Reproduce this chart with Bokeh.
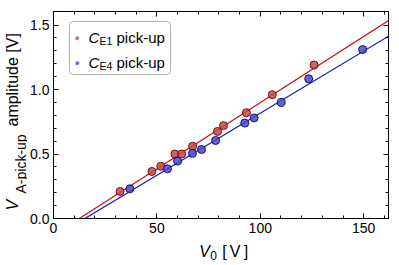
import numpy as np
from bokeh.plotting import figure
from bokeh.layouts import row, column
from bokeh.models import (ColumnDataSource, LinearAxis, FixedTicker, Range1d,
                          Label, BoxAnnotation, PrintfTickFormatter,
                          CustomJSTickFormatter)
from bokeh.embed import file_html
from bokeh.resources import INLINE

# ---- data ----
v0_e1 = [32.2, 47.6, 51.9, 58.7, 62.0, 67.3, 79.3, 82.2, 93.3, 105.8, 126.0]
amp_e1 = [0.21, 0.365, 0.405, 0.50, 0.50, 0.56, 0.675, 0.72, 0.82, 0.96, 1.19]
v0_e4 = [36.9, 55.1, 60.0, 67.2, 71.6, 78.4, 92.5, 97.0, 110.1, 123.4, 149.5]
amp_e4 = [0.23, 0.385, 0.445, 0.505, 0.535, 0.605, 0.74, 0.78, 0.90, 1.083, 1.31]
fit_e1 = [0.01027, -0.1284]   # slope, intercept
fit_e4 = [0.00963, -0.1464]
fit_x = [0.0, 165.0]
x_ticks = [0, 50, 100, 150]
x_minor = [10, 20, 30, 40, 60, 70, 80, 90, 110, 120, 130, 140, 160]
y_ticks = [0.0, 0.5, 1.0, 1.5]
y_minor = [0.1, 0.2, 0.3, 0.4, 0.6, 0.7, 0.8, 0.9, 1.1, 1.2, 1.3, 1.4]
legend_e1 = ["C", "E1", "pick-up"]
legend_e4 = ["C", "E4", "pick-up"]
ylabel_parts = ["V", "A-pick-up", "amplitude [V]"]
xlabel_parts = ["V", "0", "[\u2009V\u2009]"]

FONT = "Liberation Sans"
RED_LINE = "#cc1010"
BLUE_LINE = "#1010cc"

p = figure(width=372, height=240, output_backend="svg", toolbar_location=None,
           x_range=Range1d(0, 162), y_range=Range1d(0, 1.605),
           min_border_left=24, min_border_right=11, min_border_top=11,
           min_border_bottom=22, x_axis_location=None, y_axis_location=None)
p.grid.visible = False
p.outline_line_color = "black"
p.outline_line_width = 1
p.background_fill_color = "white"
p.border_fill_color = "white"

def make_axis(ticks, minor, labels, standoff=4):
    ax = LinearAxis(ticker=FixedTicker(ticks=ticks, minor_ticks=minor))
    ax.major_tick_in = 5
    ax.major_tick_out = 0
    ax.minor_tick_in = 3
    ax.minor_tick_out = 0
    ax.axis_line_color = "black"
    ax.major_tick_line_color = "black"
    ax.minor_tick_line_color = "black"
    ax.major_label_text_font = FONT
    ax.major_label_text_color = "black"
    ax.major_label_text_font_size = "14px"
    if labels:
        ax.major_label_standoff = standoff
    else:
        ax.formatter = CustomJSTickFormatter(code="return ''")
        ax.major_label_standoff = 0
    return ax

xb = make_axis(x_ticks, x_minor, True, standoff=4)
yl = make_axis(y_ticks, y_minor, True, standoff=4)
yl.formatter = PrintfTickFormatter(format="%.1f")
xt = make_axis(x_ticks, x_minor, False)
yr = make_axis(y_ticks, y_minor, False)
p.add_layout(xb, "below")
p.add_layout(yl, "left")
p.add_layout(xt, "above")
p.add_layout(yr, "right")

# fit lines
fx = np.array(fit_x)
p.line(fx, fit_e1[0] * fx + fit_e1[1], line_color=RED_LINE, line_width=1.2)
p.line(fx, fit_e4[0] * fx + fit_e4[1], line_color=BLUE_LINE, line_width=1.2)

# points
src1 = ColumnDataSource(dict(x=v0_e1, y=amp_e1))
src4 = ColumnDataSource(dict(x=v0_e4, y=amp_e4))
p.scatter("x", "y", source=src1, size=8, fill_color="#c24a4a", fill_alpha=0.85,
          line_color="#7a1010", line_width=1)
p.scatter("x", "y", source=src4, size=8, fill_color="#4a4ac8", fill_alpha=0.85,
          line_color="#10107a", line_width=1)

# legend box
p.add_layout(BoxAnnotation(left=16, right=117, top=197, bottom=144,
                           left_units="screen", right_units="screen",
                           top_units="screen", bottom_units="screen",
                           fill_color="white", fill_alpha=1.0,
                           line_color="black", line_width=1, border_radius=4,
                           level="overlay"))

def lbl(fig, x, y, text, size, italic=False, angle=0.0, color="black"):
    fig.add_layout(Label(x=x, y=y, x_units="screen", y_units="screen", text=text,
                         text_font=FONT, text_font_size=size,
                         text_font_style="italic" if italic else "normal",
                         text_align="left", text_baseline="middle",
                         angle=angle, text_color=color, level="overlay"))

for entry, yc, col in ((legend_e1, 181, "#d07070"), (legend_e4, 156, "#7070d8")):
    lbl(p, 21, yc, "\u25CF", "9px", color=col)
    lbl(p, 35, yc, entry[0], "15px", italic=True)
    lbl(p, 46, yc - 3, entry[1], "10.5px")
    lbl(p, 63, yc, entry[2], "15px")

def helper(w, h):
    f = figure(width=w, height=h, output_backend="svg", toolbar_location=None,
               x_range=Range1d(0, 1), y_range=Range1d(0, 1),
               min_border=0, x_axis_location=None, y_axis_location=None)
    f.grid.visible = False
    f.outline_line_color = None
    f.background_fill_color = "white"
    f.border_fill_color = "white"
    return f

# y axis label (rotated), in a narrow strip left of the plot
py = helper(27, 265)
ang = np.pi / 2
lbl(py, 12, 55, ylabel_parts[0], "16px", italic=True, angle=ang)
lbl(py, 20, 72, ylabel_parts[1], "14px", angle=ang)
lbl(py, 12, 139, ylabel_parts[2], "16px", angle=ang)

# x axis label, in a strip below the plot (its frame lines up with the plot's)
px = helper(372, 25)
lbl(px, 145.7, 14, xlabel_parts[0], "16px", italic=True)
lbl(px, 156.7, 10.5, xlabel_parts[1], "12px")
lbl(px, 168.7, 14, xlabel_parts[2], "16px")

layout = row(py, column(p, px, spacing=0), spacing=0)
open("out.html", "w").write(file_html(layout, INLINE))
